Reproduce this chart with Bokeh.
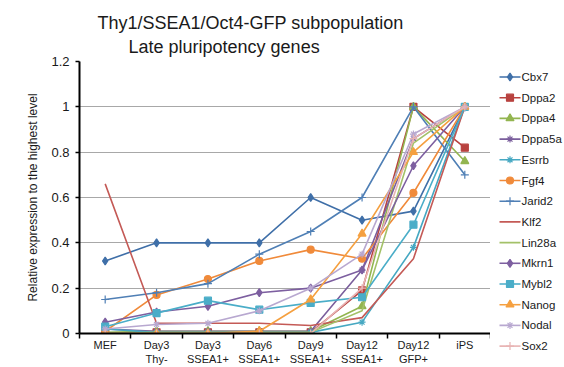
from bokeh.plotting import figure
from bokeh.layouts import row
from bokeh.models import Range1d, FixedTicker, Title
from bokeh.core.properties import value
from bokeh.embed import file_html
from bokeh.resources import INLINE

categories = ["MEF", "Day3\nThy-", "Day3\nSSEA1+", "Day6\nSSEA1+", "Day9\nSSEA1+",
              "Day12\nSSEA1+", "Day12\nGFP+", "iPS"]

Cbx7   = [0.32, 0.40, 0.40, 0.40, 0.60, 0.50, 0.54, 1.00]
Dppa2  = [0.00, 0.005, 0.005, 0.005, 0.005, 0.19, 1.00, 0.82]
Dppa4  = [0.005, 0.01, 0.01, 0.01, 0.01, 0.12, 1.00, 0.76]
Dppa5a = [0.02, 0.01, 0.01, 0.01, 0.01, 0.28, 0.86, 1.00]
Esrrb  = [0.02, 0.005, 0.005, 0.005, 0.005, 0.05, 0.38, 1.00]
Fgf4   = [0.01, 0.17, 0.24, 0.32, 0.37, 0.33, 0.62, 1.00]
Jarid2 = [0.15, 0.18, 0.22, 0.35, 0.45, 0.60, 1.00, 0.70]
Klf2   = [0.66, 0.045, 0.045, 0.045, 0.035, 0.07, 0.33, 1.00]
Lin28a = [0.00, 0.005, 0.005, 0.005, 0.005, 0.10, 0.84, 1.00]
Mkrn1  = [0.05, 0.095, 0.12, 0.18, 0.20, 0.28, 0.74, 1.00]
Mybl2  = [0.03, 0.09, 0.145, 0.105, 0.135, 0.16, 0.48, 1.00]
Nanog  = [0.00, 0.00, 0.00, 0.01, 0.15, 0.44, 0.80, 1.00]
Nodal  = [0.02, 0.04, 0.045, 0.10, 0.20, 0.35, 0.88, 1.00]
Sox2   = [0.00, 0.00, 0.00, 0.00, 0.00, 0.20, 0.86, 1.00]

gene_names = ["Cbx7", "Dppa2", "Dppa4", "Dppa5a", "Esrrb", "Fgf4", "Jarid2", "Klf2",
              "Lin28a", "Mkrn1", "Mybl2", "Nanog", "Nodal", "Sox2"]
gene_values = [Cbx7, Dppa2, Dppa4, Dppa5a, Esrrb, Fgf4, Jarid2, Klf2,
               Lin28a, Mkrn1, Mybl2, Nanog, Nodal, Sox2]

colors = ["#3F6FA8", "#B8423F", "#93B550", "#7A5E9C", "#46A8C2", "#F08A3A", "#4F7FB5",
          "#C45A56", "#A3C168", "#7D5FA0", "#4AADC8", "#F5A040", "#B8A8D0", "#E8B4B4"]
markers = ["diamond", "square", "triangle", "asterisk", "asterisk", "circle", "cross",
           None, None, "diamond", "square", "triangle", "asterisk", "cross"]
sizes = [8, 7, 8, 7, 7, 7, 8, 0, 0, 8, 7, 8, 7, 8]

FONT = "Liberation Sans"
xs = [i + 0.5 for i in range(len(categories))]

p = figure(width=490, height=367, x_range=Range1d(0, len(categories)), y_range=Range1d(0, 1.2),
           output_backend="svg", toolbar_location=None,
           min_border_left=79, min_border_right=0, min_border_top=61, min_border_bottom=34)
p.frame_align = False
p.outline_line_color = None
p.background_fill_color = "white"
p.xgrid.grid_line_color = None
p.ygrid.grid_line_color = "#A8A8A8"
p.ygrid.grid_line_width = 1

# titles
t2 = Title(text="Late pluripotency genes", align="left", offset=49,
           text_font=FONT, text_font_size="18px", text_font_style="normal",
           text_color="#1a1a1a", standoff=10)
t1 = Title(text="Thy1/SSEA1/Oct4-GFP subpopulation", align="left", offset=18,
           text_font=FONT, text_font_size="18px", text_font_style="normal",
           text_color="#1a1a1a", standoff=-6, text_line_height=1.0)
p.add_layout(t2, "above")
p.add_layout(t1, "above")

# y axis
p.yaxis.ticker = FixedTicker(ticks=[0, 0.2, 0.4, 0.6, 0.8, 1.0, 1.2])
p.yaxis.major_label_overrides = {0: "0", 0.2: "0.2", 0.4: "0.4", 0.6: "0.6", 0.8: "0.8", 1.0: "1", 1.2: "1.2"}
p.yaxis.axis_label = "Relative expression to the highest level"
p.yaxis.axis_label_text_font = FONT
p.yaxis.axis_label_text_font_size = "12px"
p.yaxis.axis_label_text_font_style = "normal"
p.yaxis.axis_label_text_color = "#1a1a1a"
p.yaxis.axis_label_standoff = 8
p.yaxis.major_label_text_font = FONT
p.yaxis.major_label_text_font_size = "13px"
p.yaxis.major_label_text_color = "#1a1a1a"
p.yaxis.major_label_standoff = 6
p.yaxis.axis_line_color = "black"
p.yaxis.axis_line_width = 2
p.yaxis.major_tick_out = 4
p.yaxis.major_tick_in = 0
p.yaxis.major_tick_line_width = 1.5
p.yaxis.minor_tick_line_color = None

# x axis
p.xaxis.ticker = FixedTicker(ticks=xs, minor_ticks=list(range(len(categories) + 1)))
p.xaxis.major_label_overrides = {x: c for x, c in zip(xs, categories)}
p.xaxis.major_label_text_font = FONT
p.xaxis.major_label_text_font_size = "11px"
p.xaxis.major_label_text_color = "#1a1a1a"
p.xaxis.major_label_standoff = 0
p.xaxis.major_tick_line_color = None
p.xaxis.major_tick_out = 0
p.xaxis.major_tick_in = 0
p.xaxis.minor_tick_out = 5
p.xaxis.minor_tick_in = 0
p.xaxis.minor_tick_line_color = "black"
p.xaxis.minor_tick_line_width = 1.5
p.xaxis.axis_line_color = "black"
p.xaxis.axis_line_width = 2

for name, vals, col, mk, sz in zip(gene_names, gene_values, colors, markers, sizes):
    p.line(xs, vals, line_color=col, line_width=1.6)
    if mk is not None:
        p.scatter(xs, vals, marker=mk, size=sz, fill_color=col, line_color=col, line_width=1.2)

# legend panel as its own small figure (pixel-like coordinates, y downward)
LW = 74
lg = figure(width=LW, height=367, x_range=Range1d(0, LW), y_range=Range1d(367, 0),
            output_backend="svg", toolbar_location=None,
            x_axis_location=None, y_axis_location=None,
            min_border_left=0, min_border_right=0, min_border_top=0, min_border_bottom=0)
lg.frame_align = False
lg.outline_line_color = None
lg.xgrid.grid_line_color = None
lg.ygrid.grid_line_color = None

ROW0, STEP = 76.5, 20.7
for i, (name, col, mk, sz) in enumerate(zip(gene_names, colors, markers, sizes)):
    yy = ROW0 + i * STEP
    lg.line([9, 30], [yy, yy], line_color=col, line_width=1.6)
    if mk is not None:
        lg.scatter([19.5], [yy], marker=mk, size=sz, fill_color=col, line_color=col, line_width=1.2)
    lg.text([31], [yy], text=[name], text_font=value(FONT), text_font_size="11.5px",
            text_color="#1a1a1a", text_baseline="middle", text_align="left")

layout = row(p, lg, spacing=0)
open("out.html", "w").write(file_html(layout, INLINE))
